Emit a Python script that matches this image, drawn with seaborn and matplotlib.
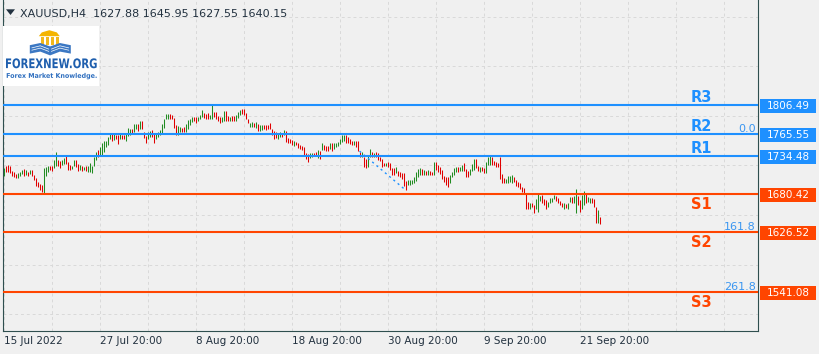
import numpy as np
import pandas as pd
import matplotlib
matplotlib.use("Agg")
import matplotlib.pyplot as plt
import matplotlib.transforms as mtransforms
from matplotlib.patches import Polygon, Rectangle, PathPatch
from matplotlib.textpath import TextPath
from matplotlib.font_manager import FontProperties
import seaborn as sns

# XAUUSD H4 bars (one entry per bar, left to right)
highs = [
    1717.5, 1720.3, 1721.3, 1719.5, 1712.8, 1711.0, 1709.0, 1710.0, 1711.8, 1713.8,
    1715.7, 1713.8, 1711.8, 1713.8, 1713.8, 1707.1, 1703.3, 1696.8, 1694.8, 1692.9,
    1716.7, 1718.5, 1719.5, 1719.5, 1719.5, 1728.9, 1739.4, 1728.9, 1727.0, 1728.9,
    1730.8, 1735.5, 1726.0, 1721.3, 1720.3, 1728.0, 1728.0, 1722.3, 1721.3, 1719.5,
    1718.5, 1719.5, 1719.5, 1724.2, 1720.3, 1732.7, 1740.2, 1742.2, 1746.9, 1752.6,
    1755.4, 1755.8, 1761.5, 1767.2, 1766.3, 1767.2, 1764.3, 1763.5, 1765.3, 1763.5,
    1763.5, 1765.3, 1773.8, 1772.8, 1772.0, 1779.5, 1779.5, 1779.5, 1784.2, 1784.2,
    1768.2, 1762.5, 1768.2, 1770.0, 1771.0, 1767.2, 1766.3, 1768.2, 1771.0, 1779.5,
    1787.0, 1793.7, 1793.7, 1793.7, 1792.7, 1788.0, 1778.5, 1776.7, 1774.8, 1773.8,
    1774.8, 1779.5, 1785.2, 1787.0, 1789.0, 1789.0, 1789.0, 1789.9, 1792.7, 1799.4,
    1794.7, 1793.7, 1795.5, 1792.7, 1806.9, 1796.5, 1796.5, 1790.9, 1789.0, 1789.0,
    1797.5, 1797.5, 1790.9, 1789.9, 1790.9, 1790.9, 1791.9, 1796.5, 1799.4, 1801.2,
    1801.2, 1794.7, 1786.2, 1781.4, 1782.4, 1780.5, 1782.4, 1779.5, 1777.7, 1777.7,
    1777.7, 1777.7, 1778.5, 1781.4, 1772.8, 1769.2, 1768.2, 1767.2, 1768.2, 1766.3,
    1771.0, 1769.2, 1759.6, 1758.7, 1756.8, 1755.8, 1754.0, 1752.1, 1750.1, 1748.3,
    1747.3, 1738.8, 1736.9, 1737.9, 1738.8, 1738.8, 1739.8, 1742.6, 1740.8, 1753.0,
    1749.3, 1748.3, 1748.3, 1753.0, 1753.0, 1753.0, 1752.1, 1754.0, 1757.8, 1764.3,
    1764.3, 1763.5, 1760.6, 1757.8, 1755.8, 1755.0, 1755.8, 1755.0, 1739.8, 1739.8,
    1733.1, 1730.3, 1734.1, 1744.5, 1739.8, 1738.8, 1739.8, 1737.9, 1732.3, 1729.4,
    1724.6, 1724.6, 1725.6, 1723.7, 1717.1, 1717.1, 1718.9, 1713.2, 1711.4, 1710.4,
    1709.5, 1699.0, 1700.0, 1700.0, 1700.0, 1703.9, 1711.4, 1716.1, 1717.1, 1715.2,
    1714.2, 1713.2, 1714.2, 1712.4, 1711.4, 1725.6, 1725.6, 1720.9, 1718.9, 1714.2,
    1705.7, 1704.7, 1703.9, 1707.6, 1711.4, 1717.1, 1718.9, 1718.9, 1718.9, 1721.8,
    1723.7, 1716.1, 1713.2, 1716.1, 1722.8, 1729.4, 1729.4, 1719.9, 1718.9, 1718.9,
    1717.1, 1725.6, 1733.1, 1734.1, 1733.1, 1727.4, 1725.6, 1723.7, 1732.3, 1708.5,
    1702.9, 1701.9, 1705.7, 1705.7, 1706.7, 1704.7, 1700.0, 1697.2, 1695.4, 1689.7,
    1688.7, 1681.2, 1668.8, 1666.9, 1667.8, 1664.1, 1672.6, 1680.2, 1677.3, 1678.3,
    1672.6, 1671.7, 1668.8, 1674.5, 1674.5, 1678.3, 1677.3, 1674.5, 1669.8, 1667.8,
    1666.9, 1666.0, 1667.8, 1675.5, 1675.5, 1677.3, 1687.7, 1677.3, 1671.7, 1678.3,
    1684.0, 1681.2, 1675.5, 1674.5, 1674.5, 1672.6, 1661.3, 1657.5, 1648.0,
]
lows = [
    1706.1, 1711.0, 1711.8, 1710.0, 1706.1, 1704.3, 1702.5, 1703.3, 1706.1, 1708.1,
    1706.1, 1707.1, 1706.1, 1708.1, 1706.1, 1700.5, 1691.1, 1690.1, 1686.3, 1683.4,
    1679.8, 1706.1, 1711.8, 1713.8, 1712.8, 1717.5, 1720.3, 1720.3, 1716.7, 1721.3,
    1723.2, 1723.2, 1714.7, 1713.8, 1715.7, 1720.3, 1718.5, 1712.8, 1714.7, 1712.8,
    1713.8, 1712.8, 1711.8, 1711.8, 1710.0, 1719.5, 1728.0, 1732.7, 1734.5, 1733.7,
    1740.2, 1747.3, 1749.3, 1758.7, 1755.8, 1756.8, 1758.7, 1751.1, 1757.8, 1758.7,
    1757.8, 1755.8, 1762.5, 1764.3, 1765.3, 1768.2, 1772.0, 1769.2, 1772.8, 1772.0,
    1759.6, 1753.0, 1757.8, 1760.6, 1760.6, 1752.1, 1757.8, 1761.5, 1763.5, 1767.2,
    1773.8, 1786.2, 1786.2, 1787.0, 1786.2, 1773.8, 1764.3, 1764.3, 1768.2, 1768.2,
    1768.2, 1768.2, 1772.8, 1777.7, 1782.4, 1784.2, 1780.5, 1783.4, 1786.2, 1789.9,
    1788.0, 1786.2, 1786.2, 1786.2, 1786.2, 1789.0, 1787.0, 1784.2, 1781.4, 1782.4,
    1784.2, 1784.2, 1784.2, 1784.2, 1784.2, 1784.2, 1783.4, 1788.0, 1791.9, 1793.7,
    1791.9, 1786.2, 1780.5, 1774.8, 1775.7, 1774.8, 1773.8, 1770.0, 1770.0, 1771.0,
    1772.0, 1771.0, 1772.0, 1772.0, 1763.5, 1757.8, 1759.6, 1758.7, 1761.5, 1761.5,
    1763.5, 1754.0, 1753.0, 1752.1, 1750.1, 1748.3, 1749.3, 1745.5, 1743.6, 1742.6,
    1736.0, 1730.3, 1725.6, 1731.3, 1733.1, 1734.1, 1734.1, 1731.3, 1729.4, 1742.6,
    1742.6, 1740.8, 1740.8, 1744.5, 1740.8, 1744.5, 1746.5, 1748.3, 1751.1, 1754.0,
    1755.8, 1753.0, 1752.1, 1751.1, 1750.1, 1749.3, 1747.3, 1740.8, 1733.1, 1733.1,
    1718.1, 1717.1, 1718.9, 1733.1, 1732.3, 1733.1, 1732.3, 1728.4, 1726.6, 1718.9,
    1719.9, 1719.9, 1718.9, 1714.2, 1707.6, 1707.6, 1710.4, 1705.7, 1704.7, 1701.0,
    1691.5, 1685.8, 1692.5, 1693.4, 1694.4, 1695.4, 1699.0, 1704.7, 1707.6, 1706.7,
    1706.7, 1707.6, 1707.6, 1706.7, 1707.6, 1707.6, 1714.2, 1711.4, 1708.5, 1701.9,
    1697.2, 1692.5, 1690.5, 1695.4, 1703.9, 1707.6, 1711.4, 1711.4, 1712.4, 1713.2,
    1713.2, 1704.7, 1704.7, 1707.6, 1712.4, 1714.2, 1717.1, 1712.4, 1711.4, 1712.4,
    1710.4, 1710.4, 1720.9, 1721.8, 1721.8, 1720.9, 1718.9, 1718.1, 1701.0, 1696.2,
    1695.4, 1695.4, 1696.2, 1697.2, 1696.2, 1697.2, 1691.5, 1690.5, 1686.8, 1683.0,
    1681.2, 1659.3, 1659.3, 1659.3, 1662.1, 1652.8, 1659.3, 1654.6, 1669.8, 1666.9,
    1664.1, 1658.4, 1661.3, 1666.9, 1668.8, 1672.6, 1670.7, 1666.9, 1664.1, 1662.1,
    1659.3, 1660.3, 1659.3, 1668.8, 1666.9, 1666.9, 1652.8, 1664.1, 1654.6, 1659.3,
    1664.1, 1666.9, 1668.8, 1667.8, 1667.8, 1661.3, 1639.5, 1639.5, 1637.6,
]
# u = bullish bar (green), d = bearish bar (red)
moves = "".join([
    "udddddduuu", "dududddddd", "uuudduuddu", "uddduuddud", "uduuuuuduu",
    "uuuududdud", "duuuduudud", "dduudduuuu", "uuudddduud", "duuuudduuu",
    "ddduuddddu", "uddudduuud", "ddduududuu", "ddddddduud", "uddddudddd",
    "ddduuddudu", "ddduduuuuu", "uddddudddu", "dduududddd", "dudddduddd",
    "dduuuuuuud", "ududdudddd", "ddduuuuduu", "ddduuuddud", "duuudddddd",
    "duuuuddddd", "dddudduuud", "dduuuudddd", "uduuduuddu", "uduudddud",
])

tick_labels = ["15 Jul 2022", "27 Jul 20:00", "8 Aug 20:00", "18 Aug 20:00",
               "30 Aug 20:00", "9 Sep 20:00", "21 Sep 20:00"]
bars_per_label = 48  # H4 bars between two time labels

level_names = ["R3", "R2", "R1", "S1", "S2", "S3"]
level_prices = [1806.49, 1765.55, 1734.48, 1680.42, 1626.52, 1541.08]

fib_names = ["0.0", "161.8", "261.8"]
fib_prices = [1765.55, 1626.52, 1541.08]
fib_trend_bars = [178, 201]
fib_trend_prices = [1741.0, 1685.8]

header = "XAUUSD,H4  1627.88 1645.95 1627.55 1640.15"

W, H = 820, 354
BG = "#F0F0F0"
AXIS = "#2F4F4F"
TEXT = "#22313F"
GREEN = "#228B22"
RED = "#E00000"
BLUE = "#1E90FF"
ORANGE = "#FF4500"
FIB = "#3A96F0"


def fitted_text(lax, s, box, color):
    # stretch a text path into a box given in logo pixels (y pointing down)
    tp = TextPath((0, 0), s, size=10, prop=FontProperties(family="DejaVu Sans", weight="bold"))
    ext = tp.get_extents()
    x0, y0, x1, y1 = box
    tr = (mtransforms.Affine2D().translate(-ext.x0, -ext.y0)
          .scale((x1 - x0) / ext.width, -(y1 - y0) / ext.height).translate(x0, y1))
    lax.add_patch(PathPatch(tr.transform_path(tp), facecolor=color, edgecolor="none"))


def draw_logo(fig):
    lax = fig.add_axes([3.3 / W, 1 - 86 / H, 96 / W, 60 / H], zorder=10)
    lax.set_xlim(0, 96)
    lax.set_ylim(60, 0)
    lax.set_facecolor("white")
    lax.set_xticks([])
    lax.set_yticks([])
    for s in lax.spines.values():
        s.set_visible(False)
    # roof and columns
    lax.add_patch(Polygon([(35.5, 10.2), (56.5, 10.2), (53.5, 6.4), (46.0, 4.2), (38.5, 6.4)],
                          facecolor="#F4B400", edgecolor="none"))
    for cx in [38.0, 43.0, 48.0, 53.0]:
        lax.add_patch(Rectangle((cx, 11.2), 2.8, 8.0, facecolor="#F2B81C", edgecolor="none"))
    # open book
    lax.add_patch(Polygon([(26.5, 19.2), (37, 17.0), (46.8, 20.4), (56.6, 17.0), (67.5, 19.2),
                           (67.5, 27.6), (56.6, 25.6), (46.8, 29.4), (37, 25.6), (26.5, 27.6)],
                          facecolor="#3C78C3", edgecolor="none"))
    for off in [2.3, 4.6]:
        lax.plot([28.5, 37, 45.5], [19.6 + off, 17.5 + off, 20.8 + off], color="white", lw=0.5)
        lax.plot([48, 56.6, 65.5], [20.8 + off, 17.5 + off, 19.6 + off], color="white", lw=0.5)
    fitted_text(lax, "FOREXNEW.ORG", (2.7, 32.3, 93.4, 42.3), "#1F5FAE")
    fitted_text(lax, "Forex Market Knowledge.", (3.4, 46.9, 93.4, 53.3), "#2F6FBF")


def main():
    sns.set_style("white", {"axes.facecolor": BG, "figure.facecolor": BG})
    plt.rcParams["font.family"] = ["DejaVu Sans"]

    bars = pd.DataFrame({"bar": np.arange(len(highs)), "high": highs, "low": lows,
                         "move": list(moves)})
    bars["color"] = np.where(bars["move"] == "u", GREEN, RED)

    fig = plt.figure(figsize=(W / 100, H / 100), dpi=100)
    fig.patch.set_facecolor(BG)
    ax = fig.add_axes([2.7 / W, 23.5 / H, 755.6 / W, 330.5 / H])
    ax.set_facecolor(BG)
    # two pixels per bar, bar centres on pixel centres
    ax.set_xlim(-0.4, 377.4)
    ax.set_ylim(1486.4, 1955.5)

    # dashed grid
    for gx in np.arange(0, 377, bars_per_label // 2):
        ax.axvline(gx, color="#D9D9D9", lw=0.7, ls=(0, (3, 3)), zorder=0)
    for gy in np.arange(1509.7, 1955, 70.3):
        ax.axhline(gy, color="#D9D9D9", lw=0.7, ls=(0, (3, 3)), zorder=0)

    # price bars, one pixel wide
    ax.vlines(bars["bar"].to_numpy(), bars["low"].to_numpy(), bars["high"].to_numpy(),
              colors=bars["color"].tolist(), linewidths=0.75, zorder=2)

    # pivot levels
    blend_ax = mtransforms.blended_transform_factory(ax.transAxes, ax.transData)
    for name, price in zip(level_names, level_prices):
        color = BLUE if name.startswith("R") else ORANGE
        ax.axhline(price, color=color, lw=1.5, zorder=3)
        dy = 1.9 if name.startswith("R") else -10.6
        ax.annotate(name, xy=(0.9248, price), xycoords=blend_ax, xytext=(0, dy),
                    textcoords="offset points", ha="center", va="baseline",
                    fontsize=10.5, fontweight="bold", color=color, zorder=4)

    # fibonacci expansion labels and its dotted trend line
    for name, price in zip(fib_names, fib_prices):
        ax.annotate(name, xy=(0.997, price), xycoords=blend_ax, xytext=(0, 1.3),
                    textcoords="offset points", ha="right", va="baseline",
                    fontsize=8, color=FIB, zorder=4)
    sns.lineplot(x=fib_trend_bars, y=fib_trend_prices, ax=ax, color=BLUE,
                 linewidth=1.0, linestyle=(0, (1.5, 2.5)), zorder=3)

    # price tags on the right scale
    y0, y1 = ax.get_ylim()
    per_px = (y1 - y0) / 330.5
    blend_fig = mtransforms.blended_transform_factory(fig.transFigure, ax.transData)
    for name, price in zip(level_names, level_prices):
        color = BLUE if name.startswith("R") else ORANGE
        yc = price - per_px
        ax.add_patch(Rectangle((760 / W, yc - 7 * per_px), 56 / W, 14 * per_px,
                               transform=blend_fig, facecolor=color, edgecolor="none",
                               clip_on=False, zorder=5))
        ax.text(788 / W, yc, f"{price:.2f}", transform=blend_fig, ha="center", va="center",
                fontsize=7.5, color="white", zorder=6, clip_on=False)

    # axes frame
    for side in ["left", "bottom", "right"]:
        ax.spines[side].set_color(AXIS)
        ax.spines[side].set_linewidth(0.8)
    ax.spines["top"].set_visible(False)
    ax.set_yticks([])
    ax.set_xticks(np.arange(len(tick_labels)) * bars_per_label)
    ax.set_xticklabels(tick_labels, ha="left")
    ax.tick_params(axis="x", direction="out", length=3, width=0.8, color=AXIS,
                   labelcolor=TEXT, labelsize=7.5, pad=1.0)
    ax.set_xlabel("")
    ax.set_ylabel("")

    # header
    fig.patches.append(Polygon([(6 / W, 1 - 9.3 / H), (15 / W, 1 - 9.3 / H), (10.5 / W, 1 - 15 / H)],
                               closed=True, transform=fig.transFigure, figure=fig,
                               facecolor=TEXT, edgecolor="none"))
    fig.text(20 / W, 1 - 17.3 / H, header, fontsize=8, color=TEXT, va="baseline", ha="left")

    draw_logo(fig)

    fig.savefig("out.png", dpi=100, facecolor=BG)


if __name__ == "__main__":
    main()
